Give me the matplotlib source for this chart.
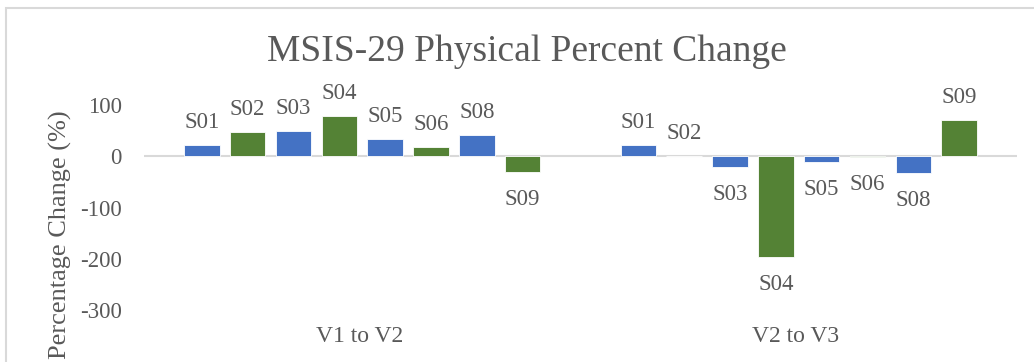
import matplotlib
matplotlib.use("Agg")
import matplotlib.pyplot as plt
import matplotlib.transforms as mtransforms
from matplotlib.patches import Rectangle

categories = ["V1 to V2", "V2 to V3"]
subjects = ["S01", "S02", "S03", "S04", "S05", "S06", "S08", "S09"]
v1_to_v2 = [21.5, 47, 50, 78, 34, 17.5, 40.5, -31]
v2_to_v3 = [21, 0, -21, -196, -12, -1, -33, 71]
yticks = [100, 0, -100, -200, -300]

BLUE = "#4472C4"
GREEN = "#548235"
TXT = "#595959"
colors = [BLUE, GREEN] * 4

plt.rcParams["font.family"] = ["Liberation Serif", "DejaVu Serif"]

fig = plt.figure(figsize=(10.34, 3.62), dpi=100)
ax = fig.add_axes([144 / 1034, (362 - 310) / 362, (1017 - 144) / 1034, 205 / 362])

values = list(zip(v1_to_v2, v2_to_v3))
step = 0.105
width = 0.0815
for i, name in enumerate(subjects):
    xs = [c + (i - 3.5) * step for c in range(len(categories))]
    vals = values[i]
    ax.bar(xs, vals, width=width, color=colors[i], edgecolor="white", linewidth=0.6, zorder=3)
    for x, v in zip(xs, vals):
        if v >= 0:
            ax.annotate(name, (x, v), xytext=(0, 17), textcoords="offset pixels",
                        ha="center", va="baseline", fontsize=16.5, color=TXT, annotation_clip=False)
        else:
            ax.annotate(name, (x, v), xytext=(0, -17), textcoords="offset pixels",
                        ha="center", va="top", fontsize=16.5, color=TXT, annotation_clip=False)

ax.axhline(0, color="#D9D9D9", linewidth=1.5, zorder=2)
ax.set_xlim(-0.5, len(categories) - 0.5)
ax.set_ylim(-300, 100)
ax.set_yticks(yticks)
ax.set_yticklabels([str(t) for t in yticks])
ax.tick_params(axis="y", length=0, pad=16, labelsize=16.5, labelcolor=TXT)
ax.set_xticks([])
for s in ax.spines.values():
    s.set_visible(False)

trans = mtransforms.blended_transform_factory(ax.transData, fig.transFigure)
for i, c in enumerate(categories):
    ax.text(i - 0.007, (362 - 337) / 362, c, transform=trans, ha="center", va="center",
            fontsize=17, color=TXT)

fig.text(527 / 1034, 1 - 52 / 362, "MSIS-29 Physical Percent Change", ha="center", va="center",
         fontsize=27, color=TXT)

fig.text(60 / 1034, 1 - 110 / 362, "Percentage Change (%)", rotation=90, ha="center", va="top",
         fontsize=19, color=TXT)

border = Rectangle((6 / 1034, -0.1), 1.2, 1 - 8 / 362 + 0.1, transform=fig.transFigure,
                   fill=False, edgecolor="#D9D9D9", linewidth=1.5)
fig.patches.append(border)

fig.savefig("out.png", dpi=100)
